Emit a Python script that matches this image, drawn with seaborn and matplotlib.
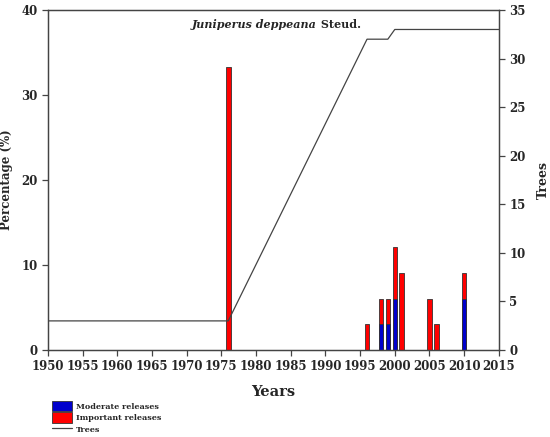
import numpy as np
import pandas as pd
import matplotlib
matplotlib.use("Agg")
import matplotlib.pyplot as plt
from matplotlib.patches import Patch
from matplotlib.lines import Line2D
import seaborn as sns

# release events (% of trees showing release in each year)
years = [1976, 1996, 1998, 1999, 2000, 2001, 2005, 2006, 2010]
moderate = [0, 0, 3.03, 3.03, 6.06, 0, 0, 0, 6.06]
important = [33.33, 3.03, 3.03, 3.03, 6.06, 9.09, 6.06, 3.03, 3.03]

# sample depth (number of trees)
tree_years = [1949, 1976, 1996, 1999, 2000, 2016]
trees = [3, 3, 32, 32, 33, 33]

title_species = "Juniperus deppeana"
title_author = "Steud."

df = pd.DataFrame({"year": years, "moderate": moderate, "important": important})
df["total"] = df["moderate"] + df["important"]
df_mod = df[df["moderate"] > 0]
df_trees = pd.DataFrame({"year": tree_years, "trees": trees})

sns.set_style("ticks")
plt.rcParams["font.family"] = ["DejaVu Serif"]
plt.rcParams["font.weight"] = "bold"

fig = plt.figure(figsize=(5.5, 4.37), dpi=100)
ax = fig.add_axes([0.087, 0.199, 0.82, 0.778])

sns.barplot(data=df, x="year", y="total", native_scale=True, width=0.65,
            color="#ff0000", saturation=1, edgecolor="#333333", linewidth=0.6, ax=ax)
sns.barplot(data=df_mod, x="year", y="moderate", native_scale=True, width=0.65,
            color="#0000cc", saturation=1, edgecolor="#333333", linewidth=0.6, ax=ax)

ax.set_xlim(1950, 2015)
ax.set_ylim(0, 40)
ax.set_xticks(range(1950, 2016, 5))
ax.set_yticks(range(0, 41, 10))
ax.set_xlabel("Years", fontsize=10.5, fontweight="bold", labelpad=8)
ax.set_ylabel("Percentage (%)", fontsize=8.5, fontweight="bold", labelpad=6)

ax2 = ax.twinx()
sns.lineplot(data=df_trees, x="year", y="trees", color="#444444", lw=0.9, ax=ax2)
ax2.set_ylim(0, 35)
ax2.set_yticks(range(0, 36, 5))
ax2.set_ylabel("Trees", fontsize=9, fontweight="bold", labelpad=8)
ax2.set_xlim(1950, 2015)

for a in (ax, ax2):
    for s in a.spines.values():
        s.set_visible(True)
        s.set_color("#444444")
        s.set_linewidth(0.9)
    a.tick_params(labelsize=8.5, width=0.9, length=4, color="#444444")
    for lab in a.get_xticklabels() + a.get_yticklabels():
        lab.set_fontweight("bold")

t1 = ax.text(0.32, 0.975, title_species, transform=ax.transAxes, fontsize=8,
             fontweight="bold", style="italic", va="top", ha="left")
ax.annotate(" " + title_author, xy=(1, 0), xycoords=t1, va="bottom", ha="left",
            fontsize=8, fontweight="bold")

handles = [Patch(facecolor="#0000cc", edgecolor="#333333", linewidth=0.6),
           Patch(facecolor="#ff0000", edgecolor="#333333", linewidth=0.6),
           Line2D([], [], color="#444444", lw=0.9)]
labels = ["Moderate releases", "Important releases", "Trees"]
fig.legend(handles, labels, loc="upper left", bbox_to_anchor=(0.087, 0.092),
           frameon=False, fontsize=5.8, handlelength=2.5, handleheight=1.6,
           labelspacing=0.15, borderpad=0, handletextpad=0.5)

fig.savefig("out.png", dpi=100)
